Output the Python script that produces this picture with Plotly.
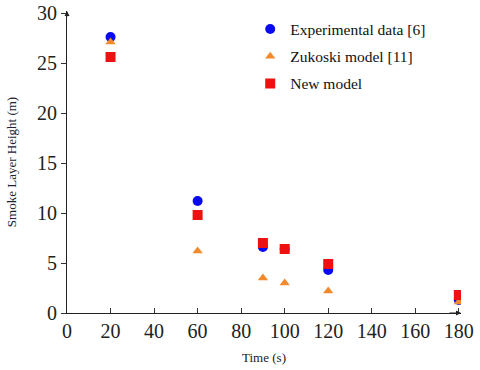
import plotly.graph_objects as go

# Times (s) and smoke layer heights (m)
time_s = [20, 60, 90, 100, 120, 180]
experimental = [27.6, 11.2, 6.6, 6.4, 4.3, 1.3]
zukoski = [27.1, 6.2, 3.5, 3.0, 2.2, 1.1]
new_model = [25.6, 9.8, 7.0, 6.4, 4.9, 1.8]

x_ticks = [0, 20, 40, 60, 80, 100, 120, 140, 160, 180]
y_ticks = [0, 5, 10, 15, 20, 25, 30]

serif = "Liberation Serif"

fig = go.Figure()
fig.add_trace(go.Scatter(
    x=time_s, y=experimental, mode="markers", name="Experimental data [6]",
    legendgroup="a", marker=dict(symbol="circle", size=10, color="#0a0af0"),
))
fig.add_trace(go.Scatter(
    x=time_s, y=zukoski, mode="markers", name="Zukoski model [11]",
    legendgroup="b", marker=dict(symbol="triangle-up", size=9, color="#f28a2c"),
))
fig.add_trace(go.Scatter(
    x=time_s, y=new_model, mode="markers", name="New model",
    legendgroup="c", marker=dict(symbol="square", size=10, color="#ee1111"),
))

axis_common = dict(
    showgrid=False, zeroline=False, showline=True, linecolor="#222", linewidth=1,
    ticklen=5, tickcolor="#333", automargin=False, ticklabeloverflow="allow",
    tickfont=dict(family=serif, size=20, color="#222"),
)

fig.update_layout(
    width=480, height=370,
    margin=dict(l=67, r=19, t=11, b=57),
    paper_bgcolor="white", plot_bgcolor="white",
    showlegend=True,
    legend=dict(
        x=0.465, y=0.995, xanchor="left", yanchor="top", traceorder="grouped",
        font=dict(family=serif, size=15.5, color="#111"),
        bgcolor="rgba(0,0,0,0)", tracegroupgap=4, itemwidth=30,
    ),
    xaxis=dict(
        range=[0, 181], tickvals=x_ticks, ticks="inside",
        title=dict(text="Time (s)", font=dict(family=serif, size=13, color="#222"), standoff=11),
        **axis_common,
    ),
    yaxis=dict(
        range=[0, 30.2], tickvals=y_ticks, ticks="outside",
        title=dict(text="Smoke Layer Height (m)", font=dict(family=serif, size=13, color="#223"), standoff=17),
        **axis_common,
    ),
)

# Arrow heads at the ends of the axes
fig.add_annotation(x=181, y=0, ax=175, ay=0, xref="x", yref="y", axref="x", ayref="y",
                   showarrow=True, arrowhead=2, arrowsize=1, arrowwidth=1, arrowcolor="#222", text="")
fig.add_annotation(x=0, y=30.2, ax=0, ay=29.5, xref="x", yref="y", axref="x", ayref="y",
                   showarrow=True, arrowhead=2, arrowsize=1, arrowwidth=1, arrowcolor="#222", text="")

# drop the browser's default body margin so the figure sits at the window corner
fig.write_html("out.html", config={"displayModeBar": False},
               post_script="document.body.style.margin = '0';")
